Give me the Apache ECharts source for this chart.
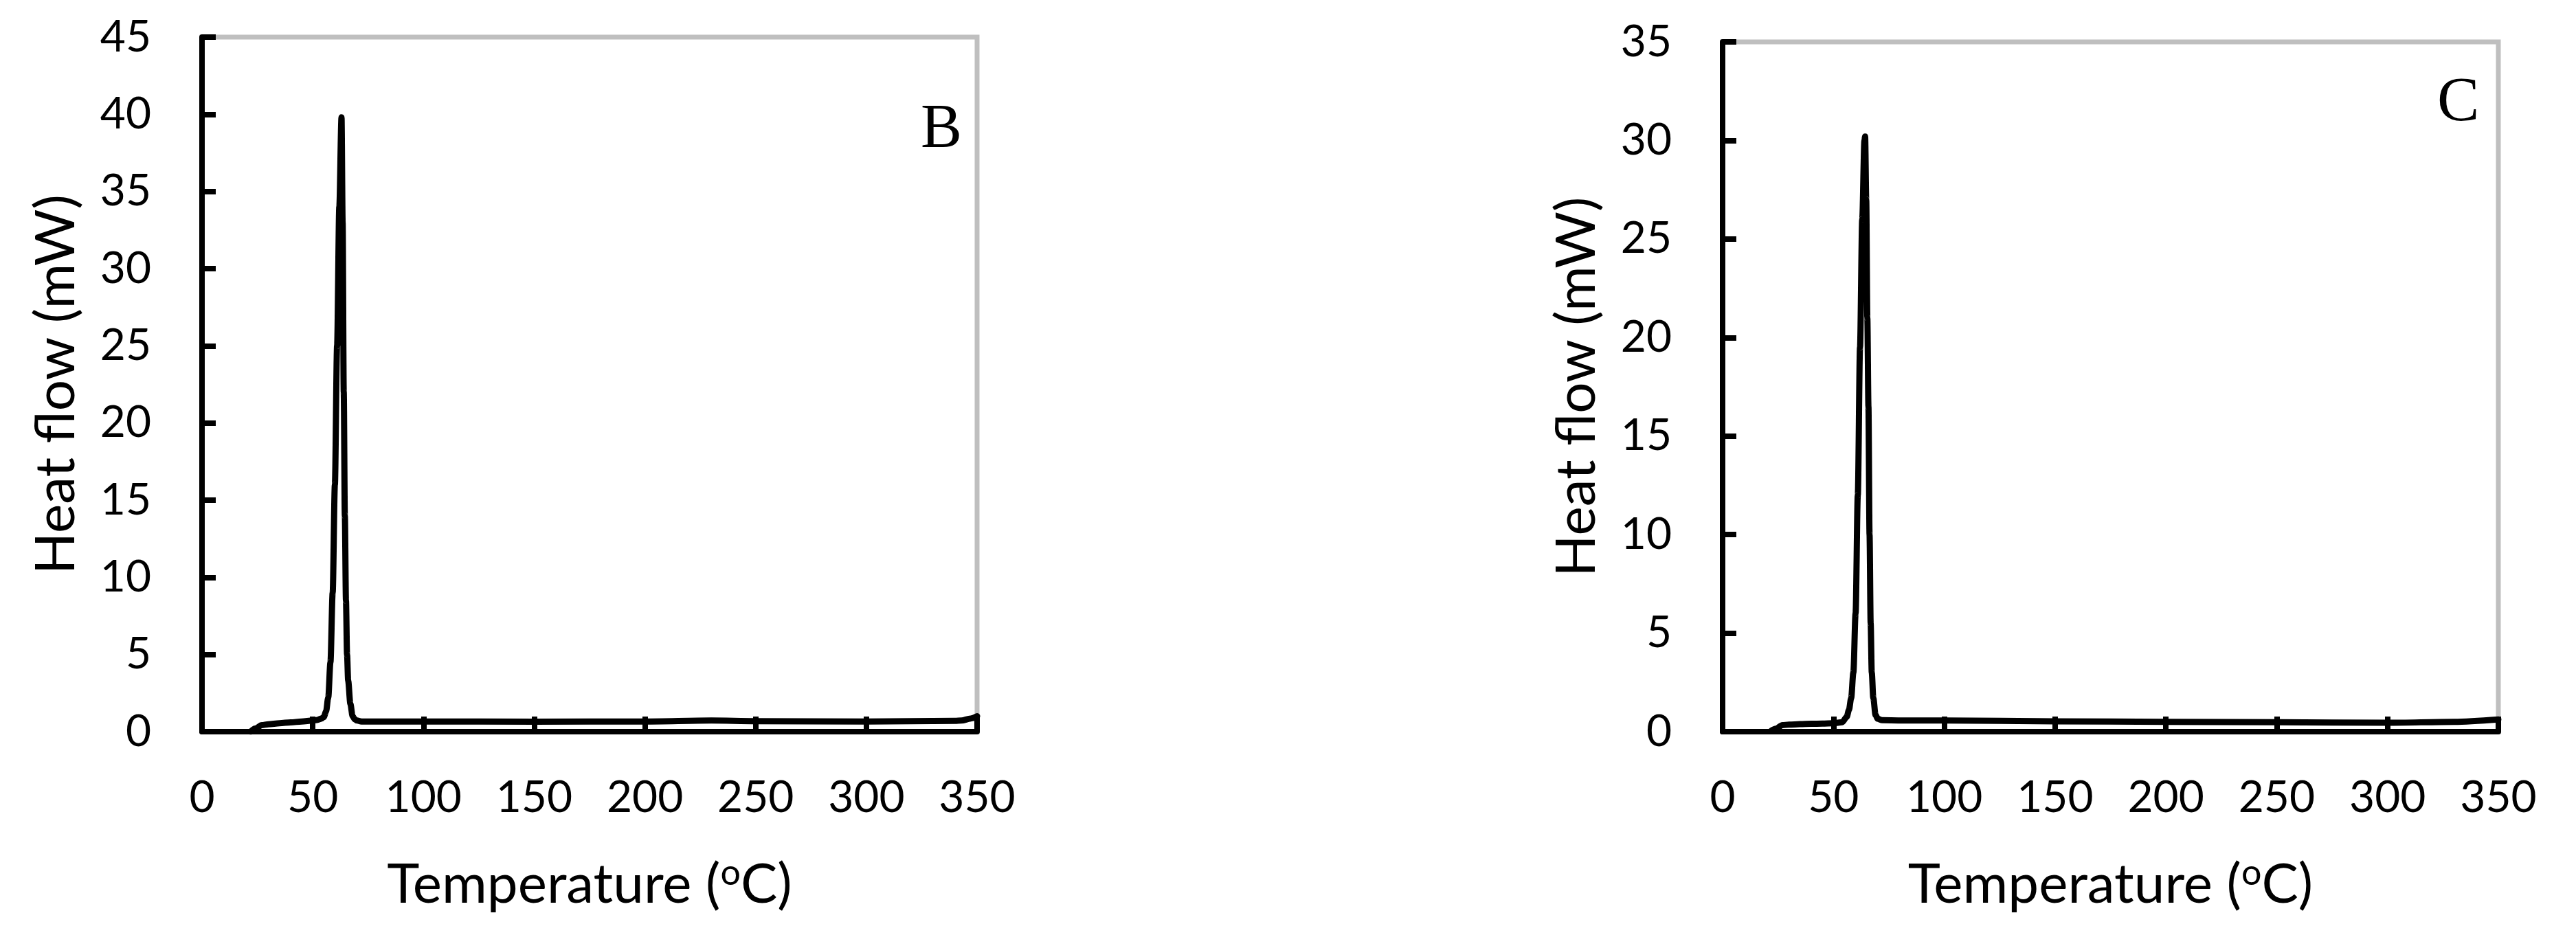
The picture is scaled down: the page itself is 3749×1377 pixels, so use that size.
<!DOCTYPE html>
<html>
<head>
<meta charset="utf-8">
<script src="https://cdn.jsdelivr.net/npm/echarts@6/dist/echarts.min.js"></script>
<style>
    html, body { margin: 0; padding: 0; background: #fff; }
    #chart { width: 3749px; height: 1377px; }
</style>
</head>
<body>
<div id="chart"></div>
<script>
// panel B
const tempB = [22, 24, 27, 30, 35, 40, 45, 50, 52, 54, 55, 56, 57, 58, 59, 60, 61, 62, 63,
    63.5, 64, 64.5, 65, 65.5, 66, 67, 68, 69, 70, 72, 80, 100, 150, 200, 230, 250, 300, 340, 343, 347, 350];
const heatB = [0, 0.2, 0.42, 0.48, 0.55, 0.6, 0.66, 0.72, 0.76, 0.85, 0.95, 1.3, 2.2, 4.5, 9, 16, 25, 34, 39.8,
    33, 22, 14, 8.5, 5, 3.3, 1.8, 1.0, 0.8, 0.72, 0.66, 0.66, 0.66, 0.65, 0.66, 0.72, 0.68, 0.66, 0.7, 0.72, 0.85, 1.0];

// panel C
const tempC = [22, 24, 27, 30, 35, 40, 45, 50, 54, 56, 57, 58, 59, 60, 61, 62, 63, 64, 64.3,
    64.8, 65.3, 65.8, 66.3, 66.8, 67.3, 68, 69, 70, 72, 80, 100, 150, 200, 250, 300, 330, 350];
const heatC = [0.05, 0.15, 0.33, 0.36, 0.38, 0.4, 0.41, 0.43, 0.48, 0.75, 1.1, 1.7, 3.0, 6, 12, 19.5, 26, 30, 30.2,
    27, 21, 16.5, 10, 5.5, 3.0, 1.7, 0.85, 0.65, 0.58, 0.57, 0.57, 0.52, 0.5, 0.48, 0.45, 0.5, 0.62];

const xTicks = [0, 50, 100, 150, 200, 250, 300, 350];

const FONT = "Lato";

function pairs(xs, ys) {
    return xs.map((x, i) => [x, ys[i]]);
}

function xAxisFor(gridIndex) {
    return {
        type: "value",
        gridIndex: gridIndex,
        min: xTicks[0],
        max: xTicks[xTicks.length - 1],
        interval: 50,
        name: "Temperature ({sup|o}C)",
        nameLocation: "middle",
        nameGap: 180,
        nameTextStyle: {
            fontFamily: FONT, fontSize: 80, color: "#000",
            rich: {
                sup: { fontFamily: FONT, fontSize: 52, color: "#000", padding: [0, 0, 34, 0] }
            }
        },
        axisLine: { show: true, lineStyle: { color: "#000", width: 8 } },
        axisTick: { inside: true, length: 22, lineStyle: { color: "#000", width: 8 } },
        axisLabel: { fontFamily: FONT, fontSize: 64, color: "#000", margin: 64 },
        splitLine: { show: false }
    };
}

function yAxisFor(gridIndex, max) {
    return {
        type: "value",
        gridIndex: gridIndex,
        min: 0,
        max: max,
        interval: 5,
        name: "Heat flow (mW)",
        nameLocation: "middle",
        nameGap: 172,
        nameTextStyle: { fontFamily: FONT, fontSize: 80, color: "#000" },
        axisLine: { show: true, lineStyle: { color: "#000", width: 8 } },
        axisTick: { inside: true, length: 20, lineStyle: { color: "#000", width: 8 } },
        axisLabel: { fontFamily: FONT, fontSize: 64, color: "#000", margin: 74 },
        splitLine: { show: false }
    };
}

function seriesFor(index, xs, ys) {
    return {
        type: "line",
        xAxisIndex: index,
        yAxisIndex: index,
        data: pairs(xs, ys),
        showSymbol: false,
        smooth: 0.3,
        smoothMonotone: "x",
        lineStyle: { color: "#000", width: 9, cap: "round", join: "round" },
        z: 5
    };
}

const chart = echarts.init(document.getElementById("chart"), null, { renderer: "canvas" });

chart.setOption({
    animation: false,
    backgroundColor: "#fff",
    grid: [
        { left: 294, top: 54, width: 1128, height: 1011, show: true, borderColor: "#bfbfbf", borderWidth: 7 },
        { left: 2507, top: 61, width: 1129, height: 1004, show: true, borderColor: "#bfbfbf", borderWidth: 7 }
    ],
    xAxis: [xAxisFor(0), xAxisFor(1)],
    yAxis: [yAxisFor(0, 45), yAxisFor(1, 35)],
    series: [
        seriesFor(0, tempB, heatB),
        seriesFor(1, tempC, heatC)
    ],
    graphic: [
        {
            type: "text", left: 1340, top: 145,
            style: { text: "B", fontFamily: "Liberation Serif", fontSize: 90, fill: "#000" }
        },
        {
            type: "text", left: 3547, top: 105,
            style: { text: "C", fontFamily: "Liberation Serif", fontSize: 92, fill: "#000" }
        }
    ]
});
</script>
</body>
</html>
